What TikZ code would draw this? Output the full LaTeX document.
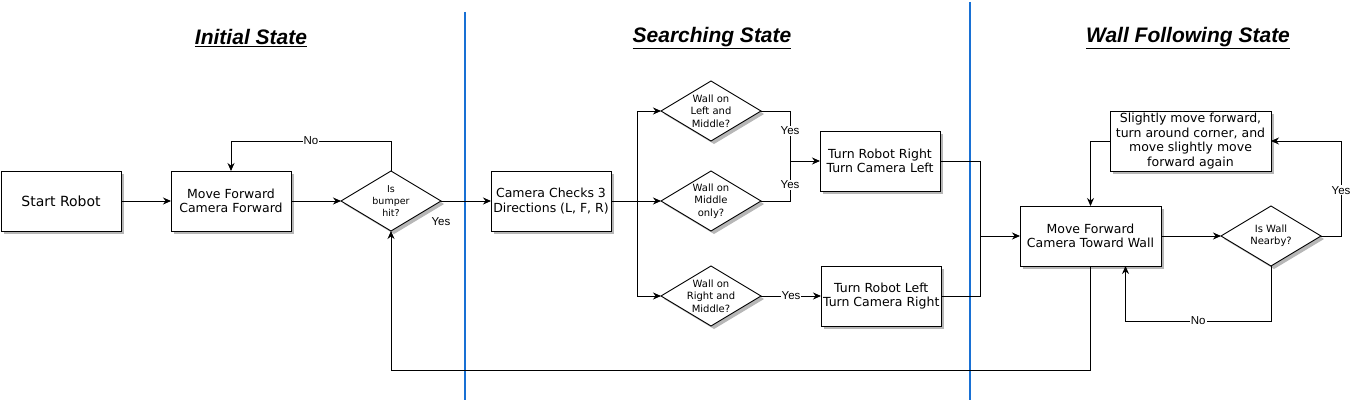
\documentclass[tikz,border=0pt]{standalone}
\usepackage{fontspec}
\setmainfont{DejaVu Sans}
\newfontfamily\labelfont{Liberation Sans}
\usetikzlibrary{positioning,shapes.geometric,calc,shadows}
\usetikzlibrary{arrows.meta}
\definecolor{divider}{RGB}{24,112,212}

\begin{document}
\begin{tikzpicture}[
  x = 1pt,
  y = -1pt,
  process/.style = {
    draw,
    rectangle,
    fill = white,
    line width = 0.9pt,
    inner xsep = 2pt,
    inner ysep = 1pt,
    outer sep = 0pt,
    minimum width = 120pt,
    minimum height = 60pt,
    align = center,
    font = \fontsize{12.5}{14.6}\selectfont,
    drop shadow = {shadow xshift=3pt, shadow yshift=-3pt, fill=black!40, opacity=0.7},
  },
  decision/.style = {
    process,
    diamond,
    inner sep = -6pt,
    minimum width = 100pt,
    minimum height = 60pt,
    font = \fontsize{10}{12.4}\selectfont,
  },
  heading/.style = {
    font = \labelfont\bfseries\itshape\fontsize{21}{25}\selectfont,
  },
  lbl/.style = {
    font = \labelfont\fontsize{11.5}{13}\selectfont,
    fill = white,
    inner sep = 1pt,
  },
  link/.style = {
    draw,
    line width = 0.9pt,
  },
  boundary/.style = {
    draw = divider,
    line width = 1.8pt,
  },
  >={Stealth[length=8pt,width=7pt]},
]

  \useasboundingbox (0,0) rectangle (1352,404);

  % state boundaries
  \draw[boundary] (465,12) -- (465,400);
  \draw[boundary] (970,2) -- (970,400);

  \node[heading] (hinit) at (251,38) {\underline{Initial State}};
  \node[heading] (hsearch) at (712,38) {\underline{Searching State}};
  \node[heading] (hwall) at (1188,38) {\underline{Wall Following State}};

  % initial state
  \node[process, font=\fontsize{14}{16}\selectfont] (start) at (61,201) {Start Robot};
  \node[process] (fwd) [right=50pt of start] {Move Forward\\Camera Forward};
  \node[decision, font=\fontsize{9.5}{12.4}\selectfont] (bumper) [right=50pt of fwd] {Is\\bumper\\hit?};

  % searching state
  \node[process] (scan) [right=50pt of bumper] {Camera Checks 3\\Directions (L, F, R)};
  \node[decision] (midwall) [right=50pt of scan] {Wall on\\Middle\\only?};
  \node[decision] (leftwall) [above=30pt of midwall] {Wall on\\Left and\\Middle?};
  \node[decision] (rightwall) [below=35pt of midwall] {Wall on\\Right and\\Middle?};
  \node[process] (turnR) at (880,161) {Turn Robot Right\\Turn Camera Left};
  \node[process] (turnL) [right=60pt of rightwall] {Turn Robot Left\\Turn Camera Right};

  % wall following state
  \node[process, minimum width=141pt] (follow) at (1090.5,236) {Move Forward\\Camera Toward Wall};
  \node[decision] (nearby) [right=60pt of follow] {Is Wall\\Nearby?};
  \node[process, minimum width=161pt] (corner) at (1190.5,141) {Slightly move forward,\\turn around corner, and\\move slightly move\\forward again};

  \coordinate (split) at ($(scan.east)+(26,0)$);
  \coordinate (joinR) at ($(turnR.west)+(-30,0)$);
  \coordinate (joinW) at ($(follow.west)+(-40,0)$);

  \path[link,->] (start) -- (fwd);
  \path[link,->] (fwd) -- (bumper);
  \path[link,->] (bumper.north) -- ++(0,-30) -| node[lbl,pos=0.25] {No} (fwd.north);
  \path[link,->] (bumper.east) -- node[lbl,pos=0,below=15pt,fill=none] {Yes} (scan.west);

  \path[link,->] (scan.east) -- (midwall.west);
  \path[link,->] (split) |- (leftwall.west);
  \path[link,->] (split) |- (rightwall.west);
  \path[link] (leftwall.east) -| node[lbl,pos=0.7] {Yes} (joinR);
  \path[link] (midwall.east) -| node[lbl,pos=0.7] {Yes} (joinR);
  \path[link,->] (joinR) -- (turnR.west);
  \path[link,->] (rightwall.east) -- node[lbl] {Yes} (turnL.west);

  \path[link] (turnR.east) -| (joinW);
  \path[link] (turnL.east) -| (joinW);
  \path[link,->] (joinW) -- (follow.west);

  \path[link,->] (follow.east) -- (nearby.west);
  \path[link,->] (nearby.east) -- ++(20,0) |- node[lbl,pos=0.24] {Yes} (corner.east);
  \path[link,->] (corner.west) -| (follow.north);
  \path[link,->] (nearby.south) -- ++(0,55) -| node[lbl,pos=0.25] {No} ($(follow.south)+(35,0)$);
  \path[link,->] (follow.south) -- ++(0,104) -| (bumper.south);

\end{tikzpicture}
\end{document}
